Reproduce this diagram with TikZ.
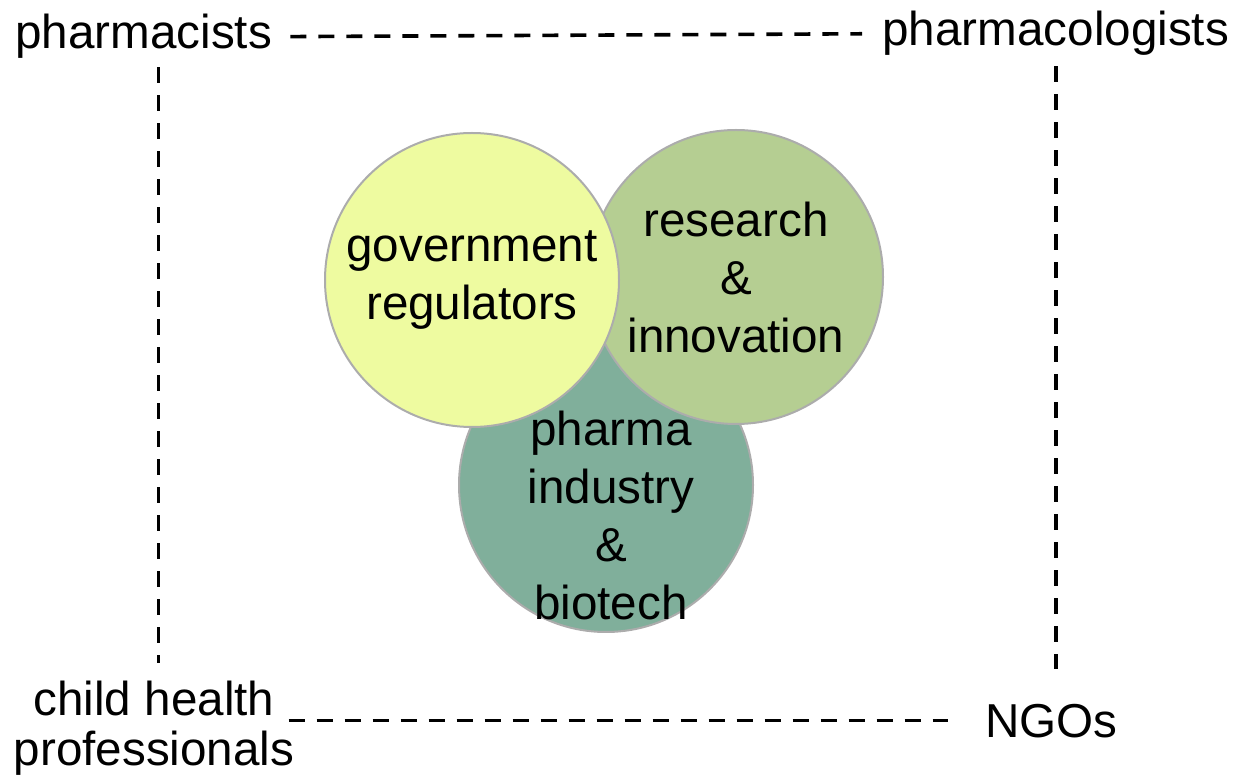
\documentclass[tikz,border=0pt]{standalone}
\usepackage{fontspec}
\setmainfont{Liberation Sans}
\definecolor{govfill}{RGB}{238,251,160}
\definecolor{resfill}{RGB}{181,206,146}
\definecolor{phafill}{RGB}{128,175,155}
\tikzset{
  ring/.style={circle,draw=gray!65,line width=1pt,minimum size=147pt,inner sep=0pt,
    align=center,font=\fontsize{23.8}{29}\selectfont},
  txt/.style={align=center,inner sep=0pt,font=\fontsize{23.8}{29}\selectfont},
  corner/.style={inner sep=0pt,font=\fontsize{23.8}{25}\selectfont},
  dline/.style={line width=1.8pt,dash pattern=on 8pt off 6pt}
}
\begin{document}
\begin{tikzpicture}[x=0.5pt,y=-0.5pt]
\useasboundingbox (0,0) rectangle (1238,780);

% Circles
\node[ring,fill=phafill] (pharma) at (606,485) {};
\node[ring,fill=resfill] (research) at (736,277) {research\\\&\\innovation};
\node[ring,fill=govfill] (gov) at (472,280) {government\\regulators};
\node[txt] (pharmatxt) at (611,515) {pharma\\industry\\\&\\biotech};

% Corner labels
\node[corner,anchor=base west] (pharmacists) at (15,49) {pharmacists};
\node[corner,anchor=base west] (pharmacologists) at (882,46) {pharmacologists};
\node[corner,align=center,anchor=north] (child) at (154,681) {child health\\professionals};
\node[corner,anchor=base west] (ngos) at (985,737) {NGOs};

% Dashed frame
\draw[dline,shorten <=9pt,shorten >=10pt] (pharmacists.east) -- (pharmacologists.west);
\draw[dline,shorten <=4pt,shorten >=9pt] ([xshift=7.5pt]pharmacists.south) -- ([xshift=7.5pt]pharmacists.south |- child.north);
\draw[dline,shorten <=5pt,shorten >=17pt] (pharmacologists.south) -- (pharmacologists.south |- ngos.north);
\draw[dline,shorten <=-3pt,shorten >=18.5pt] (child.east |- ngos.west) -- (ngos.west);

\end{tikzpicture}
\end{document}
